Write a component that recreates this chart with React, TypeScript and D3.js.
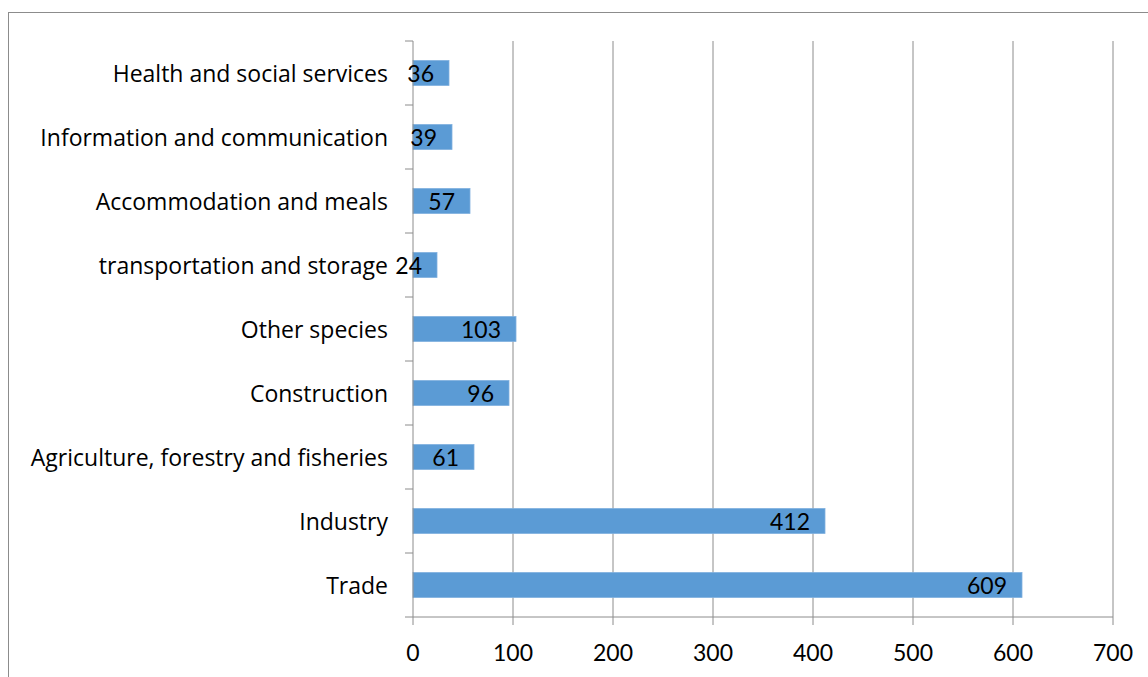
import React from "react";
import * as d3 from "d3";

const categories = [
  "Health and social services",
  "Information and communication",
  "Accommodation and meals",
  "transportation and storage",
  "Other species",
  "Construction",
  "Agriculture, forestry and fisheries",
  "Industry",
  "Trade",
];
const values = [36, 39, 57, 24, 103, 96, 61, 412, 609];
const xTicks = [0, 100, 200, 300, 400, 500, 600, 700];

const W = 1148;
const H = 677;
const left = 413;
const right = 1113;
const top = 41;
const bottom = 617;
const FONT = "'Open Sans', Lato, sans-serif";
const NUMFONT = "Lato, 'Open Sans', sans-serif";

export default function App() {
  const x = d3.scaleLinear().domain([0, 700]).range([left, right]);
  const y = d3.scaleBand<string>().domain(categories).range([top, bottom]).paddingInner(0.61).paddingOuter(0.305);
  const yb = d3.scaleBand<string>().domain(categories).range([top, bottom]);
  const grid = "#8c8c8c";
  return (
    <svg width={W} height={H} style={{ position: "absolute", left: 0, top: 0 }}>
      <rect x={0} y={0} width={W} height={H} fill="#fff" />
      <rect x={8.5} y={12.5} width={W + 20} height={H + 20} fill="#fff" stroke="#8c8c8c" strokeWidth={1} />
      {xTicks.slice(1).map((t) => (
        <line key={t} x1={x(t)} x2={x(t)} y1={top} y2={bottom} stroke={grid} strokeWidth={1} />
      ))}
      {categories.map((c, i) => (
        <rect key={c} x={x(0)} y={y(c)!} width={x(values[i]) - x(0)} height={y.bandwidth()} fill="#5b9bd5" stroke="#7fb0df" strokeWidth={0.8} />
      ))}
      <line x1={left} x2={left} y1={top} y2={bottom} stroke={grid} />
      <line x1={left} x2={right} y1={bottom} y2={bottom} stroke={grid} />
      {categories.map((c) => (
        <line key={c} x1={left - 8} x2={left} y1={yb(c)!} y2={yb(c)!} stroke={grid} />
      ))}
      <line x1={left - 8} x2={left} y1={bottom} y2={bottom} stroke={grid} />
      {xTicks.map((t) => (
        <line key={t} x1={x(t)} x2={x(t)} y1={bottom} y2={bottom + 8} stroke={grid} />
      ))}
      {xTicks.map((t) => (
        <text key={t} x={x(t)} y={661} textAnchor="middle" fontFamily={NUMFONT} fontSize={23} fill="#000">
          {t}
        </text>
      ))}
      {categories.map((c) => (
        <text key={c} x={388} y={yb(c)! + yb.bandwidth() / 2 + 8.5} textAnchor="end" fontFamily={FONT} fontSize={23} fill="#000">
          {c}
        </text>
      ))}
      {categories.map((c, i) => (
        <text key={c} x={x(values[i]) - 15} y={yb(c)! + yb.bandwidth() / 2 + 8.5} textAnchor="end" fontFamily={NUMFONT} fontSize={23} fill="#000">
          {values[i]}
        </text>
      ))}
    </svg>
  );
}
